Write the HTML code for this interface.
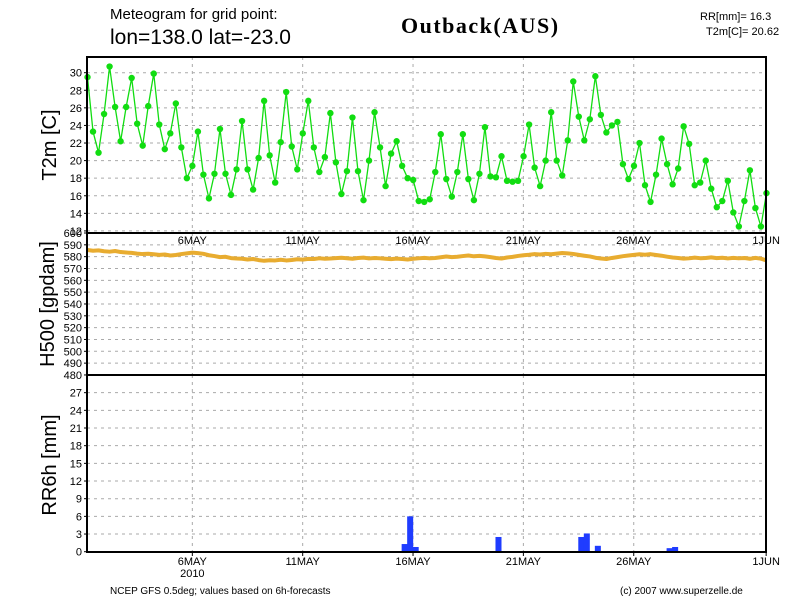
<!DOCTYPE html>
<html><head><meta charset="utf-8"><style>
body{margin:0;background:#fff;width:800px;height:600px;overflow:hidden}
svg{display:block}
text{font-family:"Liberation Sans",sans-serif}
</style></head><body>
<svg id="chart" width="800" height="600" xmlns="http://www.w3.org/2000/svg">
<rect width="800" height="600" fill="#fff"/>
<g id="header">
<text x="110" y="19" font-size="15">Meteogram for grid point:</text>
<text x="110" y="44" font-size="21">lon=138.0 lat=-23.0</text>
<text x="401" y="33" font-size="22" font-weight="bold" letter-spacing="1.5" style="font-family:'Liberation Serif',serif">Outback(AUS)</text>
<text x="700" y="20" font-size="11">RR[mm]= 16.3</text>
<text x="706" y="35" font-size="11">T2m[C]= 20.62</text>
</g>
<g id="grid"></g>
<g id="marks"></g>
<g id="axes"></g>
<text transform="translate(56,145) rotate(-90)" text-anchor="middle" font-size="20">T2m [C]</text>
<text transform="translate(54,304) rotate(-90)" text-anchor="middle" font-size="20">H500 [gpdam]</text>
<text transform="translate(56,465) rotate(-90)" text-anchor="middle" font-size="20">RR6h [mm]</text>
<text x="110" y="594" font-size="10">NCEP GFS 0.5deg; values based on 6h-forecasts</text>
<text x="620" y="594" font-size="10">(c) 2007 www.superzelle.de</text>
</svg>
<script>
const t2m=[29.5,23.3,20.9,25.3,30.7,26.1,22.2,26.1,29.4,24.2,21.7,26.2,29.9,24.1,21.3,23.1,26.5,21.5,18.0,19.4,23.3,18.4,15.7,18.5,23.6,18.5,16.1,19.0,24.5,19.0,16.7,20.3,26.8,20.6,17.5,22.1,27.8,21.6,19.0,23.1,26.8,21.5,18.7,20.4,25.4,19.8,16.2,18.8,24.9,18.8,15.5,20.0,25.5,21.5,17.1,20.8,22.2,19.4,18.0,17.8,15.4,15.3,15.6,18.7,23.0,17.9,15.9,18.7,23.0,17.9,15.5,18.5,23.8,18.2,18.1,20.5,17.7,17.6,17.7,20.5,24.1,19.2,17.1,20.0,25.5,20.0,18.3,22.3,29.0,25.0,22.3,24.7,29.6,25.2,23.2,24.0,24.4,19.6,17.9,19.4,22.0,17.2,15.3,18.4,22.5,19.6,17.3,19.1,23.9,21.9,17.2,17.5,20.0,16.8,14.7,15.4,17.7,14.1,12.5,15.4,18.9,14.6,12.5,16.3];
const h500=[585.6,585.0,585.3,584.6,584.2,584.8,583.9,583.5,583.2,582.6,582.2,582.5,582.0,581.5,581.8,581.0,581.4,582.2,582.8,583.4,583.0,582.4,581.2,580.5,579.6,579.9,578.8,578.4,578.2,577.6,578.0,577.1,576.5,577.0,576.8,577.4,576.8,577.2,577.8,577.5,578.1,578.0,578.6,578.2,578.4,578.8,579.1,578.7,578.2,578.9,579.2,578.5,578.9,578.6,578.2,577.9,578.3,578.0,577.6,578.2,578.6,579.0,578.6,578.9,579.5,580.1,579.6,579.9,580.5,581.0,580.3,580.7,580.2,579.6,578.9,578.4,579.3,579.8,580.6,581.2,581.6,582.2,581.8,582.4,582.0,582.6,583.1,582.8,582.3,581.5,580.8,580.2,579.1,578.4,578.0,578.9,579.6,580.4,581.0,581.5,582.0,581.6,582.1,581.4,580.8,580.0,579.3,578.9,578.3,578.6,579.2,578.7,578.9,579.4,578.8,579.1,578.5,579.0,578.6,578.9,578.2,579.0,578.3,576.8];
const rr=new Array(124).fill(0);
const rrIdx=[57,58,59,74,89,90,92,105,106];
const rrVal=[1.3,6.0,0.8,2.5,2.5,3.1,1.0,0.6,0.8];
rrIdx.forEach((k,j)=>{rr[k]=rrVal[j];});
const t2mTicks=[12,14,16,18,20,22,24,26,28,30];
const h500Ticks=[480,490,500,510,520,530,540,550,560,570,580,590,600];
const rrTicks=[0,3,6,9,12,15,18,21,24,27];
const dateLabels=["6MAY","11MAY","16MAY","21MAY","26MAY","1JUN"];
const dateDays=[5,10,15,20,25,31];

const NS="http://www.w3.org/2000/svg";
const X0=87,X1=766,DX=5.52,DAY=22.07;
const xi=i=>X0+0.5+i*DX;
const xd=d=>X0+0.5+(d-0.25)*DAY;
const yT=v=>72.7+(30-v)*8.79;
const yH=v=>233+(600-v)*1.183;
const yR=v=>551.7-v*5.89;
const P={t:[57,233],h:[233,375],r:[375,552]};
function el(tag,attrs,parent){const e=document.createElementNS(NS,tag);for(const k in attrs)e.setAttribute(k,attrs[k]);parent.appendChild(e);return e;}
const grid=document.getElementById('grid'),marks=document.getElementById('marks'),axes=document.getElementById('axes');
const dash={stroke:"#aaa","stroke-width":1,"stroke-dasharray":"3,4"};
function hgrid(ticks,yf,name,lo,hi){ticks.forEach(v=>{const y=yf(v);
 if(y>lo+1&&y<hi-1){const l=el('line',Object.assign({x1:X0,x2:X1,y1:y,y2:y},dash),grid);
 
 }
 const t=el('text',{x:X0-5,y:y+4,"font-size":11,"text-anchor":"end"},axes);t.textContent=v;
 
 
 el('line',{x1:X0-3,x2:X0,y1:y,y2:y,stroke:"#000"},axes);});}
hgrid(t2mTicks,yT,'t2m',P.t[0],P.t[1]);
hgrid(h500Ticks,yH,'h500',P.h[0],P.h[1]);
hgrid(rrTicks,yR,'rr',P.r[0],P.r[1]);
dateDays.forEach((d,j)=>{const x=xd(d);
 [P.t,P.h,P.r].forEach(p=>{const l=el('line',Object.assign({x1:x,x2:x,y1:p[0],y2:p[1]},dash),grid);
 
 });
 [244,565].forEach(y=>{const t=el('text',{x:x,y:y,"font-size":11,"text-anchor":"middle"},axes);t.textContent=dateLabels[j];
 
 });
 el('line',{x1:x,x2:x,y1:551,y2:556,stroke:"#000"},axes);});
const yr=el('text',{x:xd(5),y:577,"font-size":11,"text-anchor":"middle"},axes);yr.textContent="2010";


rr.forEach((v,i)=>{if(v<=0)return;const b=el('rect',{x:xi(i)-0.5,y:yR(v),width:DX+0.5,height:yR(0)-yR(v),fill:"#1f3cff"},marks);
 
 });
const hp=el('polyline',{points:h500.map((v,i)=>xi(i)+","+yH(v)).join(" "),fill:"none",stroke:"#e8ac30","stroke-width":4,"stroke-linejoin":"round"},marks);


const tp=el('polyline',{points:t2m.map((v,i)=>xi(i)+","+yT(v)).join(" "),fill:"none",stroke:"#11dd11","stroke-width":1.3},marks);


t2m.forEach((v,i)=>{const c=el('circle',{cx:xi(i),cy:yT(v),r:3.2,fill:"#11dd11"},marks);
 
 });
[[57,233],[233,375],[375,552]].forEach(p=>{const r=el('rect',{x:X0,y:p[0],width:X1-X0,height:p[1]-p[0],fill:"none",stroke:"#000","stroke-width":2},axes);
 
 });
</script>
</body></html>
